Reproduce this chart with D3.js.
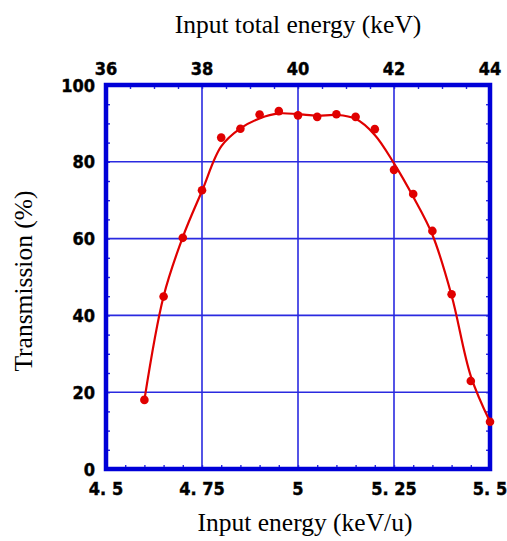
<!DOCTYPE html>
<html>
<head>
<meta charset="utf-8">
<script src="https://cdn.jsdelivr.net/npm/d3@7/dist/d3.min.js"></script>
<style>
  html, body { margin: 0; padding: 0; background: #fff; }
  .tick-lbl { font-family: "Liberation Sans Narrow", "DejaVu Sans Condensed", "Liberation Sans", sans-serif; font-weight: bold; font-size: 18px; fill: #000; stroke: #000; stroke-width: 0.4; }
  .title { font-family: "Liberation Serif", "DejaVu Serif", serif; font-size: 25.5px; fill: #000; }
</style>
</head>
<body>
<svg id="chart" width="507" height="541"></svg>
<script>
// Data
const energyPerU = [4.6, 4.65, 4.7, 4.75, 4.8, 4.85, 4.9, 4.95, 5.0, 5.05, 5.1, 5.15, 5.2, 5.25, 5.3, 5.35, 5.4, 5.45, 5.5];
const transmission = [18.0, 44.9, 60.2, 72.6, 86.3, 88.6, 92.3, 93.2, 92.1, 91.7, 92.4, 91.7, 88.5, 77.9, 71.6, 62.0, 45.5, 22.9, 12.3];
const fitCurve = [18.0, 45.0, 60.4, 72.4, 84.0, 88.7, 91.3, 92.6, 92.4, 92.0, 92.2, 91.2, 87.0, 79.6, 70.9, 61.0, 45.2, 24.2, 12.3];
const bottomTicks = [4.5, 4.75, 5.0, 5.25, 5.5];
const bottomTickLabels = ["4. 5", "4. 75", "5", "5. 25", "5. 5"];
const topTicks = [36, 38, 40, 42, 44];
const leftTicks = [0, 20, 40, 60, 80, 100];

const svg = d3.select("#chart");
const L = 106, R = 490, T = 85, B = 469;
const x = d3.scaleLinear().domain([4.5, 5.5]).range([L, R]);
const xTop = d3.scaleLinear().domain([36, 44]).range([L, R]);
const y = d3.scaleLinear().domain([0, 100]).range([B, T]);

const blue = "#0000d8";
const gridBlue = "#2a2ae0";

// grid lines
const g = svg.append("g");
g.selectAll(".vg").data(bottomTicks.slice(1, -1)).enter().append("line")
  .attr("x1", d => x(d)).attr("x2", d => x(d)).attr("y1", T).attr("y2", B)
  .attr("stroke", gridBlue).attr("stroke-width", 1.6);
g.selectAll(".hg").data(leftTicks.slice(1, -1)).enter().append("line")
  .attr("x1", L).attr("x2", R).attr("y1", d => y(d)).attr("y2", d => y(d))
  .attr("stroke", gridBlue).attr("stroke-width", 1.6);

// minor ticks (inward) via axes
const minorX = d3.range(4.55, 5.5, 0.05).map(v => +v.toFixed(2));
const minorTop = d3.range(36.5, 44, 0.5);
const minorY = d3.range(5, 100, 5);

const tk = 4;
svg.append("g").attr("transform", `translate(0,${B})`)
  .call(d3.axisTop(x).tickValues(minorX).tickSize(tk).tickFormat(""))
  .call(a => a.select(".domain").remove())
  .call(a => a.selectAll("line").attr("stroke", gridBlue).attr("stroke-width", 1.4));
svg.append("g").attr("transform", `translate(0,${T})`)
  .call(d3.axisBottom(xTop).tickValues(minorTop).tickSize(tk).tickFormat(""))
  .call(a => a.select(".domain").remove())
  .call(a => a.selectAll("line").attr("stroke", gridBlue).attr("stroke-width", 1.4));
svg.append("g").attr("transform", `translate(${L},0)`)
  .call(d3.axisRight(y).tickValues(minorY).tickSize(tk).tickFormat(""))
  .call(a => a.select(".domain").remove())
  .call(a => a.selectAll("line").attr("stroke", gridBlue).attr("stroke-width", 1.4));
svg.append("g").attr("transform", `translate(${R},0)`)
  .call(d3.axisLeft(y).tickValues(minorY).tickSize(tk).tickFormat(""))
  .call(a => a.select(".domain").remove())
  .call(a => a.selectAll("line").attr("stroke", gridBlue).attr("stroke-width", 1.4));

// frame
svg.append("rect").attr("x", L).attr("y", T).attr("width", R - L).attr("height", B - T)
  .attr("fill", "none").attr("stroke", blue).attr("stroke-width", 4.5);

// tick labels
svg.selectAll(".bl").data(bottomTicks).enter().append("text")
  .attr("class", "tick-lbl").attr("x", d => x(d)).attr("y", 495)
  .attr("text-anchor", "middle").text((d, i) => bottomTickLabels[i]);
svg.selectAll(".tl").data(topTicks).enter().append("text")
  .attr("class", "tick-lbl").attr("x", d => xTop(d)).attr("y", 75)
  .attr("text-anchor", "middle").text(d => d);
svg.selectAll(".ll").data(leftTicks).enter().append("text")
  .attr("class", "tick-lbl").attr("x", 95).attr("y", d => y(d) + 6.5)
  .attr("text-anchor", "end").text(d => d);

// curve
const line = d3.line().x((d, i) => x(energyPerU[i])).y(d => y(d)).curve(d3.curveCatmullRom.alpha(0.5));
svg.append("path").datum(fitCurve).attr("d", line)
  .attr("fill", "none").attr("stroke", "#e00000").attr("stroke-width", 2.2);

// points
svg.selectAll(".pt").data(transmission).enter().append("circle")
  .attr("cx", (d, i) => x(energyPerU[i])).attr("cy", d => y(d)).attr("r", 4.3)
  .attr("fill", "#e00000");

// titles
svg.append("text").attr("class", "title").attr("x", 298).attr("y", 33)
  .attr("text-anchor", "middle").text("Input total energy (keV)");
svg.append("text").attr("class", "title").attr("x", 305).attr("y", 531)
  .attr("text-anchor", "middle").text("Input energy (keV/u)");
svg.append("text").attr("class", "title")
  .attr("transform", "translate(32,281) rotate(-90)")
  .attr("text-anchor", "middle").text("Transmission (%)");
</script>
</body>
</html>
